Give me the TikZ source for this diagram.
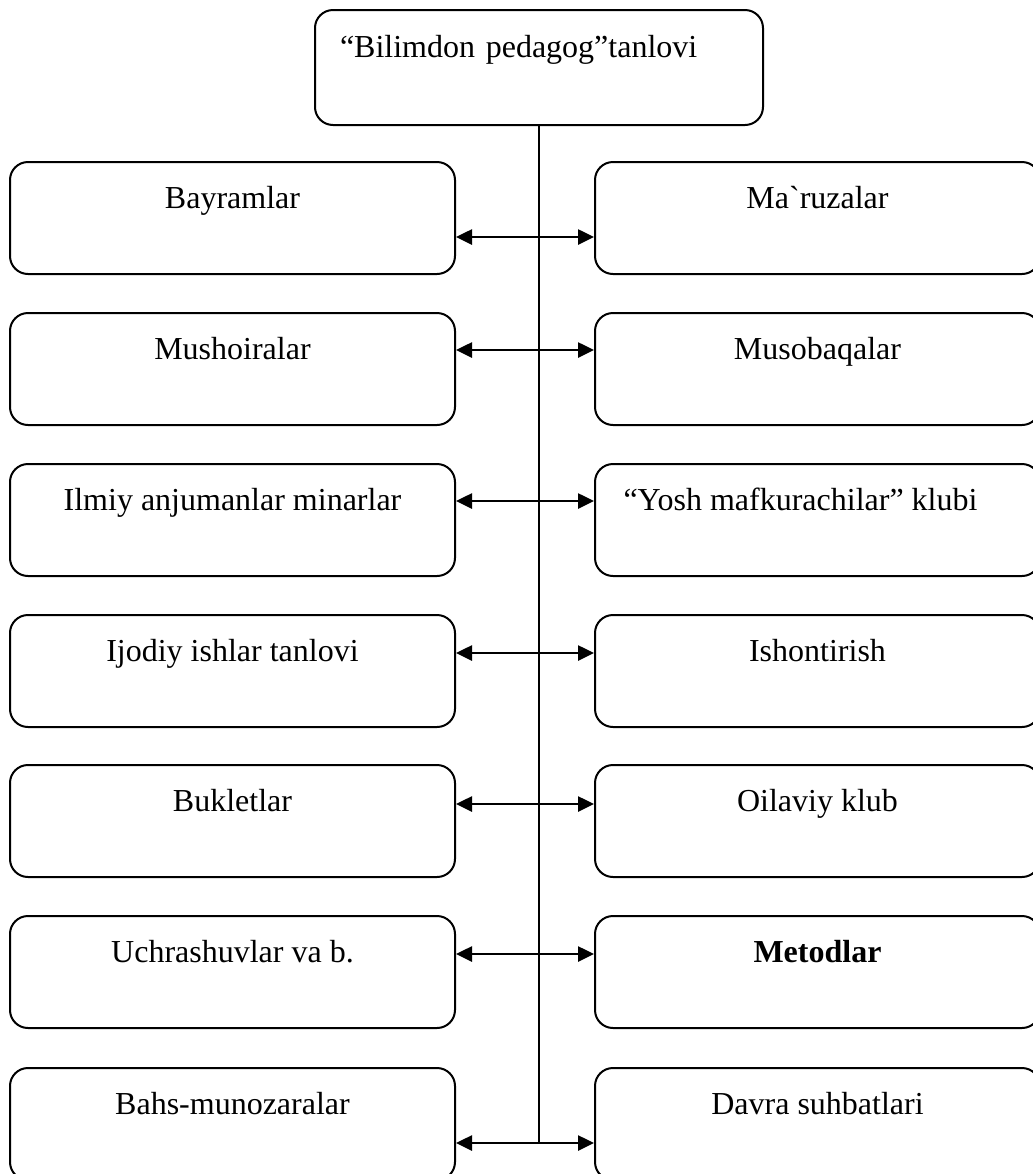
\documentclass[tikz,border=0pt]{standalone}
\usepackage{fontspec}
\setmainfont{Liberation Serif}
\usetikzlibrary{arrows.meta}

\begin{document}
\begin{tikzpicture}[x=0.5pt,y=-0.5pt,font=\fontsize{16}{19}\selectfont]
  \tikzstyle{block}=[draw,rounded corners=9pt,line width=1pt,minimum width=222.5pt,inner sep=0pt,text height=23pt,text depth=33pt]
  \tikzstyle{link}=[{Triangle[length=8pt,width=7.5pt]}-{Triangle[length=8pt,width=7.5pt]},line width=1.3pt]
  \useasboundingbox (0,0) rectangle (1033,1174);

  \node[block,text width=199pt,inner xsep=12.5pt,text height=23.5pt,text depth=34pt,align=left] (tanlov) at (539,67.5) {“Bilimdon pedagog”tanlovi};

  % left column
  \node[block] (bayram) at (232.5,218) {Bayramlar};
  \node[block] (mushoira) at (232.5,369) {Mushoiralar};
  \node[block] (ilmiy) at (232.5,520) {Ilmiy anjumanlar minarlar};
  \node[block] (ijodiy) at (232.5,671) {Ijodiy ishlar tanlovi};
  \node[block] (buklet) at (232.5,821) {Bukletlar};
  \node[block] (uchrash) at (232.5,972) {Uchrashuvlar va b.};
  \node[block] (bahs) at (232.5,1124) {Bahs-munozaralar};

  % right column
  \node[block] (maruza) at (817.5,218) {Ma\textasciigrave ruzalar};
  \node[block] (musobaqa) at (817.5,369) {Musobaqalar};
  \node[block] (yosh) at (817.5,520) {“Yosh mafkurachilar” klubi\hspace*{17pt}};
  \node[block] (ishont) at (817.5,671) {Ishontirish};
  \node[block] (oila) at (817.5,821) {Oilaviy klub};
  \node[block] (metod) at (817.5,972) {\textbf{Metodlar}};
  \node[block] (davra) at (817.5,1124) {Davra suhbatlari};

  \coordinate (t1) at (539,237);
  \coordinate (t2) at (539,350);
  \coordinate (t3) at (539,501);
  \coordinate (t4) at (539,653);
  \coordinate (t5) at (539,804);
  \coordinate (t6) at (539,954);
  \coordinate (t7) at (539,1143);

  \draw[line width=0.6pt] (tanlov.south) -- (t7);

  \draw[link] (bayram.east |- t1) -- (maruza.west |- t1);
  \draw[link] (mushoira.east |- t2) -- (musobaqa.west |- t2);
  \draw[link] (ilmiy.east |- t3) -- (yosh.west |- t3);
  \draw[link] (ijodiy.east |- t4) -- (ishont.west |- t4);
  \draw[link] (buklet.east |- t5) -- (oila.west |- t5);
  \draw[link] (uchrash.east |- t6) -- (metod.west |- t6);
  \draw[link] (bahs.east |- t7) -- (davra.west |- t7);
\end{tikzpicture}
\end{document}
